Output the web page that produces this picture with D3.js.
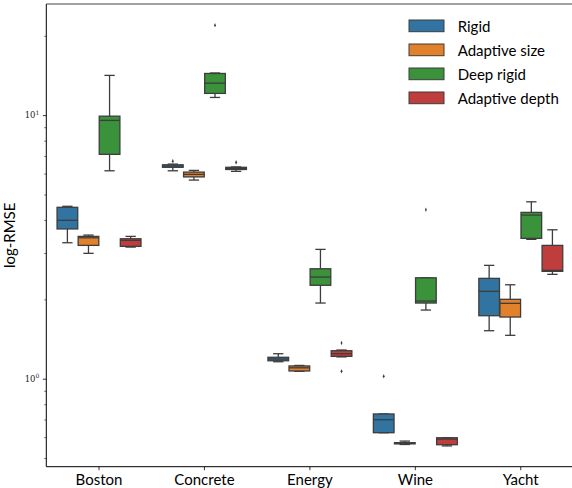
<!DOCTYPE html>
<html><head><meta charset="utf-8">
<script src="https://cdn.jsdelivr.net/npm/d3@7"></script>
<style>body{margin:0;background:#fff}svg{display:block}</style>
</head><body><svg id="c" width="572" height="488"></svg>
<script>
const categories = ["Boston","Concrete","Energy","Wine","Yacht"];
const seriesNames = ["Rigid","Adaptive size","Deep rigid","Adaptive depth"];
const colors = ["#3274a1","#e1812c","#3a923a","#c03d3e"];
// per category: [whiskerLow, q1, median, q3, whiskerHigh]
const rigid = [
  [3.28, 3.70, 3.99, 4.47, 4.51],
  [6.15, 6.34, 6.41, 6.48, 6.52],
  [1.16, 1.17, 1.188, 1.206, 1.244],
  [0.624, 0.624, 0.699, 0.735, 0.735],
  [1.521, 1.734, 2.145, 2.403, 2.692]
];
const adaptiveSize = [
  [2.99, 3.205, 3.425, 3.467, 3.507],
  [5.67, 5.83, 5.96, 6.08, 6.17],
  [1.067, 1.07, 1.10, 1.118, 1.123],
  [0.563, 0.566, 0.569, 0.572, 0.580],
  [1.461, 1.714, 1.932, 2.001, 2.272]
];
const deepRigid = [
  [6.15, 7.10, 9.55, 9.91, 14.15],
  [11.67, 12.09, 13.22, 14.39, 14.45],
  [1.937, 2.262, 2.43, 2.613, 3.095],
  [1.822, 1.937, 1.971, 2.415, 2.415],
  [3.379, 3.408, 4.177, 4.276, 4.69]
];
const adaptiveDepth = [
  [3.158, 3.178, 3.349, 3.396, 3.467],
  [6.12, 6.22, 6.27, 6.34, 6.36],
  [1.21, 1.216, 1.244, 1.277, 1.285],
  [0.556, 0.562, 0.590, 0.597, 0.597],
  [2.489, 2.555, 2.577, 3.205, 3.673]
];
// outliers per category
const rigidOut = [[], [6.69], [], [1.021], []];
const adaptiveSizeOut = [[], [], [], [], []];
const deepRigidOut = [[], [21.94], [], [4.375], []];
const adaptiveDepthOut = [[], [6.62], [1.366, 1.067], [], []];
const yTickValues = [1, 10];

const stats = [rigid, adaptiveSize, deepRigid, adaptiveDepth];
const outs = [rigidOut, adaptiveSizeOut, deepRigidOut, adaptiveDepthOut];

const svg = d3.select("#c");
const pL = 46.3, pR = 573.5, pT = 4, pB = 466.7;
const edge = "#3d3d3d";

const x = d3.scaleBand().domain(categories).range([pL, pR]).paddingInner(0).paddingOuter(0);
const xs = d3.scaleBand().domain(seriesNames).range([0, x.bandwidth()*0.8]);
const y = d3.scaleLog().domain([0.4637, 26.4]).range([pB, pT]);

const boxW = xs.bandwidth()*0.98;
const off = x.bandwidth()*0.1;

stats.forEach((s, si) => {
  const g = svg.append("g");
  s.forEach((d, ci) => {
    const cx = x(categories[ci]) + off + xs(seriesNames[si]) + xs.bandwidth()/2;
    const [wl, q1, md, q3, wh] = d;
    const cap = boxW/2;
    g.append("line").attr("x1", cx).attr("x2", cx).attr("y1", y(q3)).attr("y2", y(wh)).attr("stroke", edge).attr("stroke-width", 1.3);
    g.append("line").attr("x1", cx).attr("x2", cx).attr("y1", y(q1)).attr("y2", y(wl)).attr("stroke", edge).attr("stroke-width", 1.3);
    g.append("line").attr("x1", cx-cap/2).attr("x2", cx+cap/2).attr("y1", y(wh)).attr("y2", y(wh)).attr("stroke", edge).attr("stroke-width", 1.3);
    g.append("line").attr("x1", cx-cap/2).attr("x2", cx+cap/2).attr("y1", y(wl)).attr("y2", y(wl)).attr("stroke", edge).attr("stroke-width", 1.3);
    g.append("rect").attr("x", cx-boxW/2).attr("width", boxW)
      .attr("y", y(q3)).attr("height", Math.max(0.5, y(q1)-y(q3)))
      .attr("fill", colors[si]).attr("stroke", edge).attr("stroke-width", 1.3);
    g.append("line").attr("x1", cx-boxW/2).attr("x2", cx+boxW/2).attr("y1", y(md)).attr("y2", y(md)).attr("stroke", edge).attr("stroke-width", 1.3);
    outs[si][ci].forEach(v => {
      g.append("path").attr("d", d3.symbol(d3.symbolDiamond, 6)())
        .attr("transform", `translate(${cx},${y(v)}) scale(0.7,1)`).attr("fill", edge);
    });
  });
});

const yAxis = d3.axisLeft(y).tickValues(yTickValues).tickSize(3.5).tickFormat(() => "");
const ya = svg.append("g").attr("transform", `translate(${pL},0)`).call(yAxis);
ya.select(".domain").remove();
ya.selectAll("line").attr("stroke", "#000").attr("stroke-width", 0.8);
const minor = [0.5,0.6,0.7,0.8,0.9,2,3,4,5,6,7,8,9,20];
const yMinor = d3.axisLeft(y).tickValues(minor).tickSize(2).tickFormat(() => "");
const ym = svg.append("g").attr("transform", `translate(${pL},0)`).call(yMinor);
ym.select(".domain").remove();
ym.selectAll("line").attr("stroke", "#000").attr("stroke-width", 0.6);

yTickValues.forEach(v => {
  const t = svg.append("text").attr("x", pL-7).attr("y", y(v)+3).attr("text-anchor", "end")
    .attr("font-family", "DejaVu Serif").attr("font-size", 8.5).attr("fill", "#222");
  t.append("tspan").text("10");
  t.append("tspan").attr("dy", -3.5).attr("font-size", 6).text(Math.round(Math.log10(v)));
});

const xAxis = d3.axisBottom(x).tickSize(3.5).tickPadding(4);
const xa = svg.append("g").attr("transform", `translate(0,${pB})`).call(xAxis);
xa.select(".domain").remove();
xa.selectAll("line").attr("stroke", "#000").attr("stroke-width", 0.8);
xa.selectAll("text").attr("font-family", "Lato").attr("font-size", 15).attr("fill", "#000");

svg.append("line").attr("x1", pL).attr("x2", pL).attr("y1", pT).attr("y2", pB).attr("stroke", "#000").attr("stroke-width", 1);
svg.append("line").attr("x1", pL).attr("x2", pR).attr("y1", pB).attr("y2", pB).attr("stroke", "#000").attr("stroke-width", 1);
svg.append("line").attr("x1", pL).attr("x2", pR).attr("y1", pT).attr("y2", pT).attr("stroke", "#444").attr("stroke-width", 1.2);

svg.append("text").attr("transform", `translate(15,${(pT+pB)/2}) rotate(-90)`)
  .attr("text-anchor", "middle").attr("font-family", "Lato").attr("font-size", 15).text("log-RMSE");

const lg = svg.append("g").attr("transform", "translate(409,20)");
seriesNames.forEach((n, i) => {
  lg.append("rect").attr("x", 0).attr("y", i*24).attr("width", 35).attr("height", 11.7)
    .attr("fill", colors[i]).attr("stroke", edge).attr("stroke-width", 1);
  lg.append("text").attr("x", 48.7).attr("y", i*24+11.5).attr("font-family", "Lato").attr("font-size", 15).text(n);
});
</script></body></html>
